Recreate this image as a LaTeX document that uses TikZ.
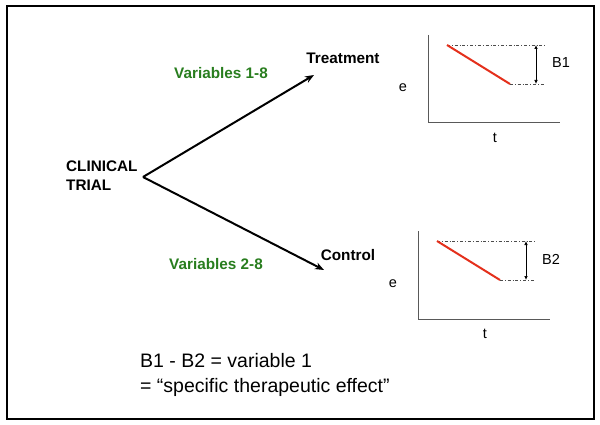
\documentclass[tikz,border=0pt]{standalone}
\usepackage{fontspec}
\setmainfont{Liberation Sans}
\usetikzlibrary{arrows.meta}
\definecolor{vargreen}{RGB}{40,125,30}
\definecolor{linered}{RGB}{228,48,28}
\begin{document}
\begin{tikzpicture}[x=1pt, y=-1pt,
    label/.style={font=\fontsize{15.3}{19}\selectfont\bfseries, inner sep=0pt},
    vars/.style={label, text=vargreen},
    branch/.style={line width=2pt, -{Stealth[length=9pt, width=7pt]}},
    axis/.style={line width=1pt, gray!70!black},
    level/.style={line width=0.7pt, gray!60!black, dash dot},
    drop/.style={line width=2pt, linered},
    small/.style={font=\fontsize{14.5}{17}\selectfont, inner sep=0pt}]
  \useasboundingbox (0,0) rectangle (600,425);
  \draw[line width=1.3pt] (7,6) rectangle (594,419);

  % Branching of the trial
  \node[label, anchor=west, align=left] (trial) at (66,176) {CLINICAL\\TRIAL};
  \coordinate (fork) at (143,177);
  \coordinate (treattip) at (314,75);
  \coordinate (ctrltip) at (324,270);
  \node[label] (treat) at (343,58) {Treatment};
  \node[label] (ctrl) at (348,255) {Control};
  \node[vars] (vars18) at (221,73) {Variables 1-8};
  \node[vars] (vars28) at (216,264) {Variables 2-8};
  \draw[branch] (fork) -- (treattip);
  \draw[branch] (fork) -- (ctrltip);

  % Response curves (e against t)
  \foreach \ox/\oy/\lab in {428/123/B1, 418/319/B2} {
    \begin{scope}[shift={(\ox,\oy)}]
      \draw[axis] (0,-88) -- (0,0) -- (132,0);
      \node[small] (e\lab) at (-25,-35) {e};
      \node[small] (t\lab) at (67,15) {t};
      \draw[level] (19,-78) -- (117,-78);
      \draw[level] (82,-39) -- (117,-39);
      \draw[drop] (19,-78) -- (82,-39);
      \draw[line width=0.7pt, {Latex[length=4pt, width=3.5pt]}-{Latex[length=4pt, width=3.5pt]}] (108,-78) -- (108,-39);
      \node[small] (gap\lab) at (133,-60) {\lab};
    \end{scope}
  }

  % Conclusion
  \node[anchor=west, align=left, inner sep=0pt, font=\fontsize{19.5}{25}\selectfont] (result) at (140,375)
    {B1 - B2 = variable 1\\= “specific therapeutic effect”};
\end{tikzpicture}
\end{document}
